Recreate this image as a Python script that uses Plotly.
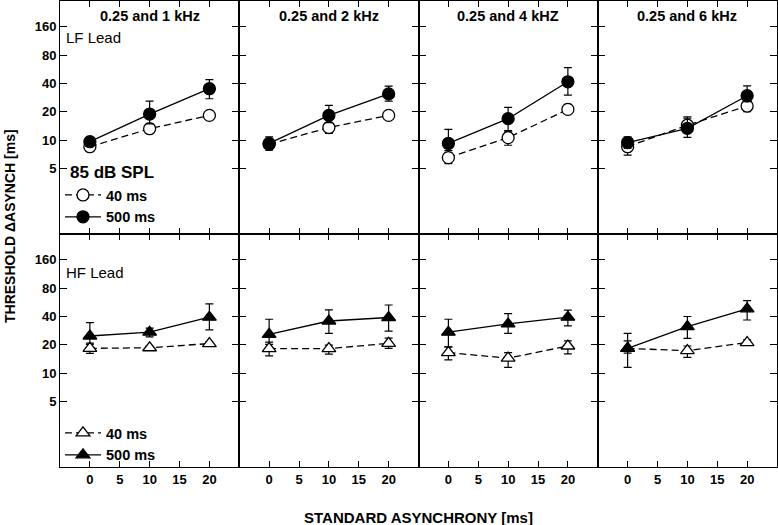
import plotly.graph_objects as go
from plotly.subplots import make_subplots

# ---------------- data ----------------
x_async = [0, 10, 20]
panel_titles = ["0.25 and 1 kHz", "0.25 and 2 kHz", "0.25 and 4 kHZ", "0.25 and 6 kHz"]
y_tickvals = [5, 10, 20, 40, 80, 160]
x_tickvals = [0, 5, 10, 15, 20]

# LF lead, 40 ms (open circles)
lf40_y = [[8.5, 13.2, 18.3], [9.0, 13.6, 18.3], [6.5, 10.6, 21.2], [8.5, 14.4, 23.0]]
lf40_plus = [[0.7, 1.3, 0.8], [0.8, 1.7, 0.8], [0.8, 1.6, 2.8], [1.0, 2.7, 3.0]]
lf40_minus = [[0.7, 1.3, 0.8], [0.8, 1.8, 0.8], [0.9, 1.8, 2.0], [1.6, 2.0, 3.0]]
# LF lead, 500 ms (filled circles)
lf500_y = [[9.6, 18.9, 35.2], [9.2, 18.3, 31.0], [9.2, 16.9, 41.7], [9.4, 13.3, 29.6]]
lf500_plus = [[1.1, 7.0, 8.8], [1.6, 5.1, 6.5], [3.8, 5.4, 17.3], [1.4, 4.4, 8.2]]
lf500_minus = [[1.0, 4.0, 7.7], [1.4, 3.0, 5.0], [1.5, 4.3, 11.7], [1.2, 2.6, 4.0]]
# HF lead, 40 ms (open triangles)
hf40_y = [[18.3, 18.6, 20.6], [18.2, 18.2, 20.7], [16.5, 14.4, 19.4], [18.3, 17.3, 21.1]]
hf40_plus = [[1.9, 0.8, 0.8], [2.0, 1.6, 2.8], [2.5, 2.1, 2.6], [3.7, 2.1, 1.5]]
hf40_minus = [[2.1, 0.8, 0.8], [3.0, 2.3, 2.4], [2.7, 2.9, 3.4], [2.0, 2.6, 1.0]]
# HF lead, 500 ms (filled triangles)
hf500_y = [[24.8, 27.2, 39.3], [25.8, 35.8, 39.0], [27.2, 33.3, 39.3], [18.3, 31.2, 48.3]]
hf500_plus = [[9.6, 2.8, 15.1], [11.6, 11.2, 14.0], [10.2, 9.7, 7.4], [8.2, 8.8, 10.7]]
hf500_minus = [[4.0, 2.9, 10.5], [4.5, 9.3, 11.0], [8.2, 6.9, 7.5], [6.8, 7.8, 11.6]]

FONT = "Liberation Sans, Arial, sans-serif"
LW = 1.3
PLOT_H = 466.0
PLOT_W = 717.0

fig = make_subplots(rows=2, cols=4, horizontal_spacing=0, vertical_spacing=0)


def add_series(row, col, y, plus, minus, symbol, filled, dashed, name, legend, show):
    fig.add_trace(
        go.Scatter(
            x=x_async, y=y, mode="lines+markers", name=name,
            legend=legend, showlegend=show,
            line=dict(color="black", width=LW, dash="7px,4px" if dashed else "solid"),
            marker=dict(symbol=symbol, size=12,
                        color="black" if filled else "white",
                        line=dict(color="black", width=1.3)),
            error_y=dict(type="data", symmetric=False, array=plus, arrayminus=minus,
                         color="black", thickness=1.2, width=4),
            cliponaxis=False,
        ),
        row=row, col=col,
    )


for c in range(4):
    add_series(1, c + 1, lf40_y[c], lf40_plus[c], lf40_minus[c], "circle", False, True,
               "40 ms", "legend", c == 0)
    add_series(1, c + 1, lf500_y[c], lf500_plus[c], lf500_minus[c], "circle", True, False,
               "500 ms", "legend", c == 0)
    add_series(2, c + 1, hf40_y[c], hf40_plus[c], hf40_minus[c], "triangle-up", False, True,
               "40 ms", "legend2", c == 0)
    add_series(2, c + 1, hf500_y[c], hf500_plus[c], hf500_minus[c], "triangle-up", True, False,
               "500 ms", "legend2", c == 0)

tickfont = dict(family=FONT, size=13, color="black", weight="bold")

for r in (1, 2):
    for c in (1, 2, 3, 4):
        fig.update_xaxes(
            range=[-5, 25], tickvals=x_tickvals, ticktext=[str(v) for v in x_tickvals],
            ticks="inside", ticklen=6, tickwidth=LW, tickcolor="black",
            showline=True, linecolor="black", linewidth=1, mirror="ticks",
            showgrid=False, zeroline=False, showticklabels=(r == 2),
            tickfont=tickfont, row=r, col=c,
        )
        fig.update_yaxes(
            type="log", range=[0.0, 2.48], tickvals=y_tickvals,
            ticktext=[str(v) for v in y_tickvals],
            ticks="inside", ticklen=7, tickwidth=LW, tickcolor="black",
            showline=True, linecolor="black", linewidth=1, mirror="ticks",
            showgrid=False, zeroline=False, showticklabels=(c == 1),
            tickfont=tickfont, row=r, col=c,
        )

annotations = []
for c in range(4):
    ax = "x" if c == 0 else f"x{c + 1}"
    annotations.append(dict(
        text=panel_titles[c], xref=f"{ax} domain", yref="paper",
        x=0.5, y=1 - 15 / PLOT_H, xanchor="center", yanchor="middle", showarrow=False,
        font=dict(family=FONT, size=14.5, color="black", weight="bold"),
    ))
annotations.append(dict(text="LF Lead", xref="x domain", yref="paper",
                        x=0.025, y=1 - 36 / PLOT_H, xanchor="left", yanchor="middle",
                        showarrow=False, font=dict(family=FONT, size=15, color="black")))
annotations.append(dict(text="HF Lead", xref="x5 domain", yref="paper",
                        x=0.025, y=1 - 271 / PLOT_H, xanchor="left", yanchor="middle",
                        showarrow=False, font=dict(family=FONT, size=15, color="black")))
annotations.append(dict(text="85 dB SPL", xref="x domain", yref="paper",
                        x=0.045, y=1 - 171 / PLOT_H, xanchor="left", yanchor="middle",
                        showarrow=False,
                        font=dict(family=FONT, size=17, color="black", weight="bold")))
annotations.append(dict(text="THRESHOLD \u0394ASYNCH [ms]", xref="paper", yref="paper",
                        x=-50 / PLOT_W, y=1 - 225 / PLOT_H, xanchor="center", yanchor="middle",
                        textangle=-90, showarrow=False,
                        font=dict(family=FONT, size=14, color="black", weight="bold")))
annotations.append(dict(text="STANDARD ASYNCHRONY [ms]", xref="paper", yref="paper",
                        x=0.5, y=-(517 - 467) / PLOT_H, xanchor="center", yanchor="middle",
                        showarrow=False,
                        font=dict(family=FONT, size=15, color="black", weight="bold")))

legend_common = dict(xanchor="left", yanchor="top", bgcolor="rgba(0,0,0,0)",
                     borderwidth=0, tracegroupgap=0, itemwidth=36,
                     font=dict(family=FONT, size=14.5, color="black", weight="bold"))

fig.update_layout(
    width=778, height=525,
    margin=dict(l=60, r=1, t=1, b=58),
    plot_bgcolor="white", paper_bgcolor="white",
    font=dict(family=FONT, color="black"),
    annotations=annotations,
    legend=dict(x=0.0, y=1 - 178 / PLOT_H, **legend_common),
    legend2=dict(x=0.0, y=1 - 416 / PLOT_H, **legend_common),
)

fig.write_html("out.html", config={"displayModeBar": False},
               post_script="document.body.style.margin='0px';")
